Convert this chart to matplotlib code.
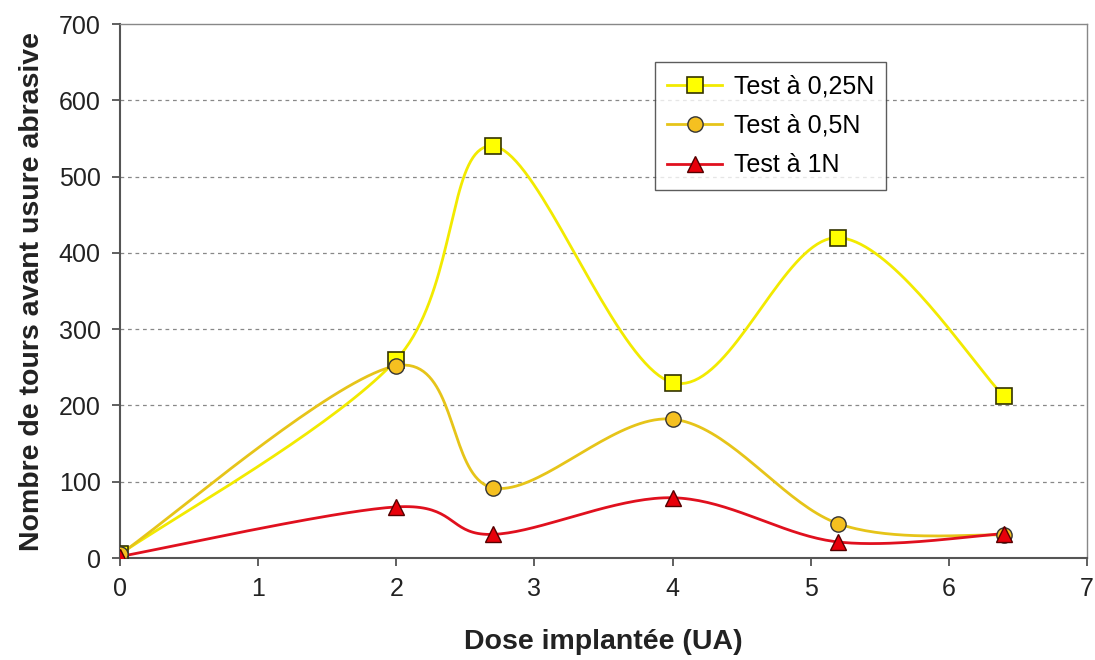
import numpy as np
import matplotlib
matplotlib.use("Agg")
import matplotlib.pyplot as plt

plt.rcParams['font.family'] = ['Liberation Sans', 'DejaVu Sans']

dose = [0, 2, 2.7, 4, 5.2, 6.4]
test_025 = [5, 260, 540, 230, 420, 212]
test_05 = [5, 252, 92, 182, 45, 30]
test_1 = [2, 67, 31, 79, 21, 32]
labels = ["Test à 0,25N", "Test à 0,5N", "Test à 1N"]


def smooth(xs, ys, n=40):
    """Excel-like smoothed line (Catmull-Rom Bezier through the points)."""
    P = np.column_stack([xs, ys]).astype(float)
    out = [P[0]]
    for i in range(len(P) - 1):
        p0 = P[i - 1] if i > 0 else P[i]
        p1, p2 = P[i], P[i + 1]
        p3 = P[i + 2] if i + 2 < len(P) else P[i + 1]
        c1 = p1 + (p2 - p0) / 6.0
        c2 = p2 - (p3 - p1) / 6.0
        t = np.linspace(0, 1, n)[1:, None]
        seg = ((1 - t) ** 3) * p1 + 3 * ((1 - t) ** 2) * t * c1 + 3 * (1 - t) * t ** 2 * c2 + t ** 3 * p2
        out.extend(seg)
    out = np.array(out)
    return out[:, 0], out[:, 1]


fig = plt.figure(figsize=(10.95, 6.6), dpi=100)
ax = fig.add_axes([0.1096, 0.1545, 0.8831, 0.8091])

styles = [
    dict(line="#F2EA00", marker="s", mfc="#FFFF00", mec="#333300", ms=11, lw=2.0, mlw=1.2),
    dict(line="#E6C419", marker="o", mfc="#F5C020", mec="#333333", ms=11, lw=2.0, mlw=1.0),
    dict(line="#E0101E", marker="^", mfc="#E8000A", mec="#550000", ms=12, lw=2.0, mlw=1.0),
]
series = [test_025, test_05, test_1]

for ys, st, lab in zip(series, styles, labels):
    sx, sy = smooth(dose, ys)
    ax.plot(sx, sy, color=st["line"], lw=st["lw"], zorder=3)
    ax.plot(dose, ys, linestyle='none', marker=st["marker"], ms=st["ms"],
            mfc=st["mfc"], mec=st["mec"], mew=st["mlw"], zorder=4)
    ax.plot([], [], color=st["line"], lw=st["lw"], marker=st["marker"], ms=st["ms"],
            mfc=st["mfc"], mec=st["mec"], mew=st["mlw"], label=lab)

ax.set_xlim(0, 7)
ax.set_ylim(0, 700)
ax.set_xticks(range(0, 8))
ax.set_yticks(range(0, 701, 100))
ax.tick_params(direction='out', length=6, width=1.2, color='#444444',
               labelsize=18, labelcolor='#222222', pad=8)
for y in range(100, 700, 100):
    ax.axhline(y, color='#888888', lw=0.9, ls=(0, (3, 3)), zorder=1)

for s in ['left', 'bottom']:
    ax.spines[s].set_color('#555555')
    ax.spines[s].set_linewidth(1.5)
for s in ['top', 'right']:
    ax.spines[s].set_color('#888888')
    ax.spines[s].set_linewidth(1.0)

ax.set_xlabel("Dose implantée (UA)", fontsize=20.5, fontweight='bold', labelpad=20, color='#222222')
ax.set_ylabel("Nombre de tours avant usure abrasive", fontsize=20.5, fontweight='bold', labelpad=10, color='#222222')

leg = ax.legend(loc='upper left', bbox_to_anchor=(0.553, 0.929), fontsize=18, frameon=True,
                fancybox=False, edgecolor='#333333', handlelength=2.2, handletextpad=0.45,
                labelspacing=0.62, borderpad=0.5, borderaxespad=0)
leg.get_frame().set_linewidth(1.0)

fig.savefig("out.png", dpi=100)
